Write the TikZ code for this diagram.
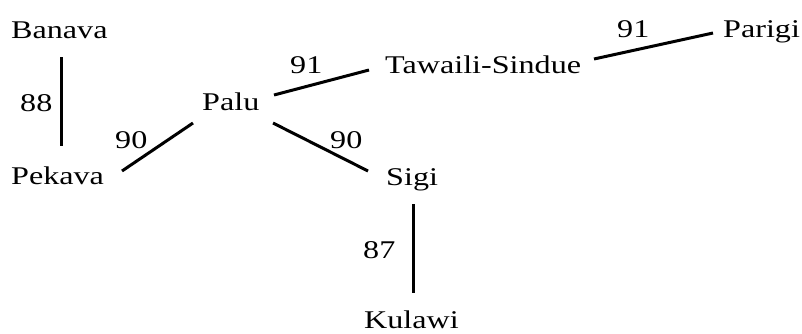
\documentclass[tikz,border=0pt]{standalone}
\usepackage{fontspec}
\setmainfont{Liberation Serif}
\newcommand{\wide}[1]{\scalebox{1.26}[1]{#1}}
\begin{document}
\begin{tikzpicture}[x=1pt,y=-1pt,
  lang/.style={anchor=base west,inner sep=0pt,font=\fontsize{25.5}{30}\selectfont},
  num/.style={anchor=base west,inner sep=0pt,font=\fontsize{25.5}{30}\selectfont},
  link/.style={line width=3pt}]
\useasboundingbox (0,0) rectangle (802,333);
% languages
\node[lang] (banava) at (11,38) {\wide{Banava}};
\node[lang] (pekava) at (11,184) {\wide{Pekava}};
\node[lang] (palu) at (202,110) {\wide{Palu}};
\node[lang] (tawaili) at (385,73) {\wide{Tawaili-Sindue}};
\node[lang] (parigi) at (723,37) {\wide{Parigi}};
\node[lang] (sigi) at (386,185) {\wide{Sigi}};
\node[lang] (kulawi) at (364,328) {\wide{Kulawi}};
% connector ends
\coordinate (bp1) at (61,57);
\coordinate (bp2) at (61,146);
\coordinate (pp1) at (122,171);
\coordinate (pp2) at (193,123);
\coordinate (pt1) at (274,95);
\coordinate (pt2) at (369,70);
\coordinate (ps1) at (273,123);
\coordinate (ps2) at (368,171);
\coordinate (tp1) at (594,59);
\coordinate (tp2) at (713,33);
\coordinate (sk1) at (413,204);
\coordinate (sk2) at (413,293);
% connectors
\draw[link] (bp1) -- (bp2);
\draw[link] (pp1) -- (pp2);
\draw[link] (pt1) -- (pt2);
\draw[link] (ps1) -- (ps2);
\draw[link] (tp1) -- (tp2);
\draw[link] (sk1) -- (sk2);
% labels
\node[num] (l88) at (20,111) {\wide{88}};
\node[num] (l90a) at (115,148) {\wide{90}};
\node[num] (l91a) at (290,73) {\wide{91}};
\node[num] (l90b) at (330,148) {\wide{90}};
\node[num] (l91b) at (617,37) {\wide{91}};
\node[num] (l87) at (363,258) {\wide{87}};
\end{tikzpicture}
\end{document}
